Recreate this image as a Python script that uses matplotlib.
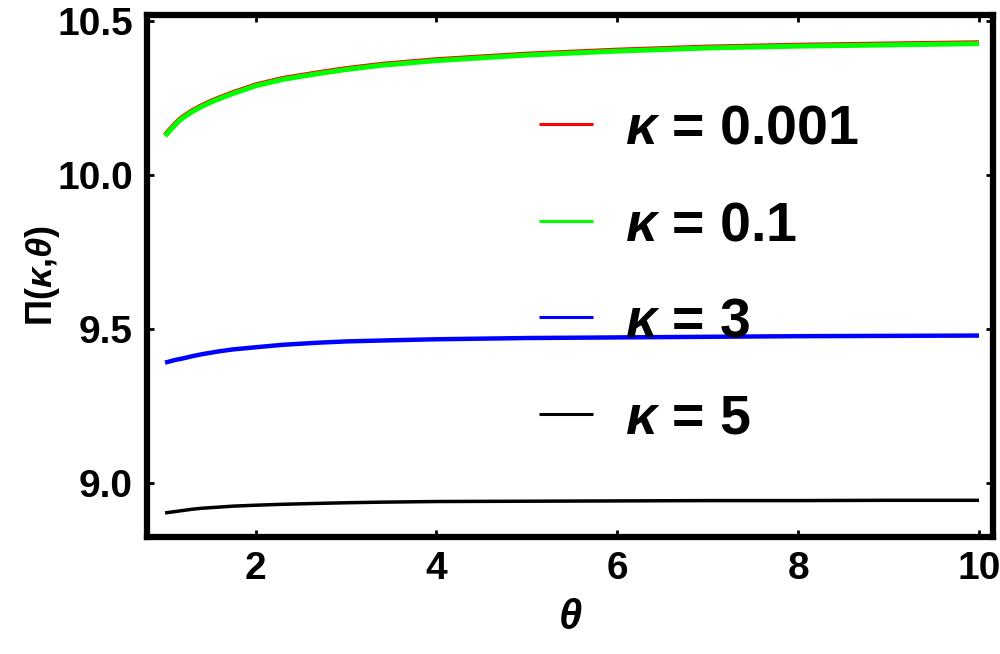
import matplotlib
matplotlib.use('Agg')
import matplotlib.pyplot as plt
from matplotlib.ticker import FormatStrFormatter

plt.rcParams['font.family'] = ['Liberation Sans', 'DejaVu Sans']
plt.rcParams['font.weight'] = 'bold'
plt.rcParams['mathtext.fontset'] = 'custom'
plt.rcParams['mathtext.rm'] = 'Liberation Sans:bold'
plt.rcParams['mathtext.bf'] = 'Liberation Sans:bold'
plt.rcParams['mathtext.it'] = 'Liberation Sans:italic:bold'

# values
theta = [1.0, 1.05, 1.1, 1.15, 1.2, 1.3, 1.4, 1.5, 1.6, 1.75, 2.0, 2.3, 2.7, 3.0,
         3.4, 4.0, 5.0, 6.0, 7.0, 8.0, 9.0, 10.0]
pi_k0001 = [10.130, 10.147, 10.163, 10.178, 10.190, 10.209, 10.225, 10.239, 10.251,
            10.268, 10.293, 10.314, 10.333, 10.346, 10.360, 10.375, 10.393, 10.406,
            10.416, 10.422, 10.426, 10.430]
pi_k01 = [10.127, 10.144, 10.160, 10.175, 10.187, 10.206, 10.222, 10.236, 10.248,
          10.265, 10.290, 10.311, 10.330, 10.343, 10.357, 10.372, 10.390, 10.403,
          10.413, 10.419, 10.423, 10.427]
pi_k3 = [9.391, 9.395, 9.399, 9.402, 9.405, 9.412, 9.418, 9.423, 9.428, 9.434,
         9.441, 9.449, 9.456, 9.460, 9.463, 9.467, 9.471, 9.473, 9.475, 9.477,
         9.478, 9.479]
pi_k5 = [8.903, 8.905, 8.907, 8.909, 8.911, 8.915, 8.918, 8.920, 8.922, 8.925,
         8.928, 8.931, 8.934, 8.936, 8.938, 8.940, 8.941, 8.942, 8.943, 8.943,
         8.944, 8.944]

labels = [r'$\kappa$ = 0.001', r'$\kappa$ = 0.1', r'$\kappa$ = 3', r'$\kappa$ = 5']
colors = ['#ff0000', '#00ff00', '#0000ff', '#000000']
widths = [3.6, 3.6, 3.2, 2.5]

fig = plt.figure(figsize=(10, 6.54), dpi=100)
ax = fig.add_axes([0.147, 0.179, 0.846, 0.798])

series = [pi_k0001, pi_k01, pi_k3, pi_k5]
for ys, lab, c, w in zip(series, labels, colors, widths):
    ax.plot(theta, ys, color=c, lw=w, label=lab, solid_capstyle='butt')

ax.set_xlim(0.80, 10.155)
ax.set_ylim(8.825, 10.52)
ax.set_xticks([2, 4, 6, 8, 10])
ax.set_yticks([9.0, 9.5, 10.0, 10.5])
ax.yaxis.set_major_formatter(FormatStrFormatter('%.1f'))
ax.tick_params(direction='in', length=5, width=2, top=True, right=True,
               labelsize=28, pad=10)
for s in ax.spines.values():
    s.set_linewidth(4.5)

ax.set_xlabel(r'$\theta$', fontsize=30, labelpad=8)
ax.set_ylabel(r'$\Pi(\kappa{,}\theta)$', fontsize=26, labelpad=-3)

leg = ax.legend(loc='upper left', bbox_to_anchor=(0.463, 0.83), frameon=False,
                fontsize=40, handlelength=0.97, handletextpad=0.58,
                labelspacing=0.8, borderpad=0, borderaxespad=0)
for l in leg.get_lines():
    l.set_linewidth(2.2)

fig.savefig('out.png', dpi=100)
